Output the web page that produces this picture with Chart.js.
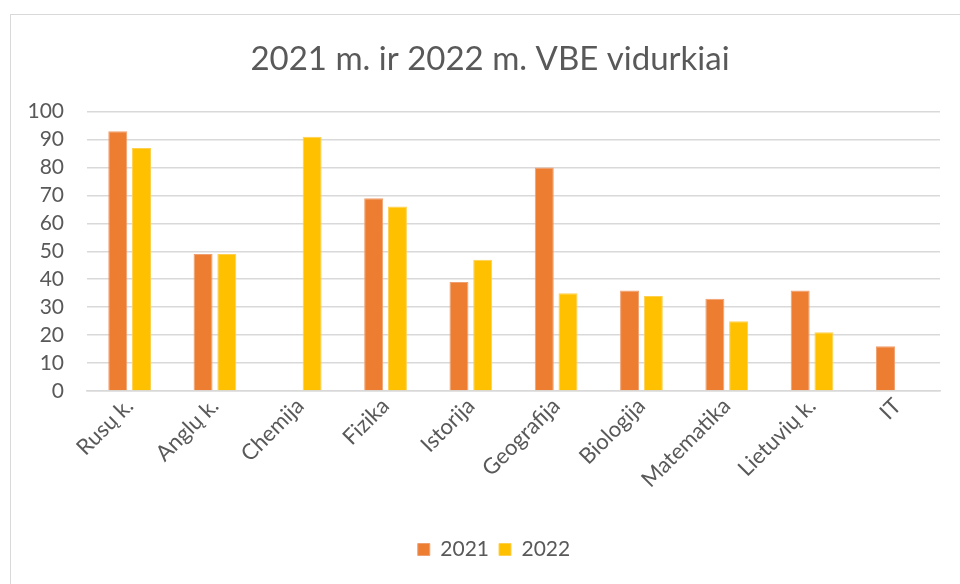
<!DOCTYPE html>
<html>
<head>
<meta charset="utf-8">
<script src="https://cdn.jsdelivr.net/npm/chart.js@4"></script>
<style>
  html, body { margin: 0; padding: 0; background: #fff; }
  #wrap { position: relative; width: 960px; height: 584px; overflow: hidden; }
  #frame { position: absolute; left: 10px; top: 14px; width: 1000px; height: 700px; border: 1px solid #d9d9d9; box-sizing: border-box; }
  canvas { position: absolute; left: 0; top: 0; }
</style>
</head>
<body>
<div id="wrap">
  <div id="frame"></div>
  <canvas id="c" width="960" height="584"></canvas>
</div>
<script>
const categories = ["Rusų k.", "Anglų k.", "Chemija", "Fizika", "Istorija", "Geografija", "Biologija", "Matematika", "Lietuvių k.", "IT"];
const values2021 = [93, 49, null, 69, 39, 80, 36, 33, 36, 16];
const values2022 = [87, 49, 91, 66, 47, 35, 34, 25, 21, null];
const seriesNames = ["2021", "2022"];
const titleText = "2021 m. ir 2022 m. VBE vidurkiai";

const FONT = "Lato, 'Open Sans', sans-serif";
const TXT = "#595959";

const shiftBlocks = {
  id: "shiftBlocks",
  afterLayout(chart) {
    if (chart.titleBlock) { chart.titleBlock.left += 15; chart.titleBlock.right += 15; }
    if (chart.legend) { chart.legend.left += 19; chart.legend.right += 19; }
  }
};

new Chart(document.getElementById("c"), {
  type: "bar",
  data: {
    labels: categories,
    datasets: [
      { label: seriesNames[0], data: values2021, backgroundColor: "#ED7D31", borderColor: "#F0A070", borderWidth: 1, categoryPercentage: 0.557, barPercentage: 0.8 },
      { label: seriesNames[1], data: values2022, backgroundColor: "#FFC000", borderColor: "#FFD050", borderWidth: 1, categoryPercentage: 0.557, barPercentage: 0.8 }
    ]
  },
  plugins: [shiftBlocks],
  options: {
    responsive: false,
    animation: false,
    layout: { padding: { left: 10, right: 20, top: 0, bottom: 14 } },
    plugins: {
      title: {
        display: true, text: titleText, color: TXT,
        font: { family: FONT, size: 33, weight: "normal" },
        padding: { top: 40, bottom: 32 }
      },
      legend: {
        position: "bottom",
        labels: { color: TXT, font: { family: FONT, size: 21 }, boxWidth: 12, boxHeight: 12, padding: 10 }
      },
      tooltip: { enabled: false }
    },
    scales: {
      y: {
        min: 0, max: 100,
        ticks: { stepSize: 10, autoSkip: false, color: TXT, font: { family: FONT, size: 21 }, padding: 23 },
        grid: { color: "#d9d9d9", lineWidth: 1.5, drawTicks: false },
        border: { display: false },
        afterFit(s) { s.width = 77; }
      },
      x: {
        ticks: { color: TXT, font: { family: FONT, size: 22 }, minRotation: 45, maxRotation: 45, padding: -6, autoSkip: false },
        grid: { display: false },
        border: { display: true, color: "#d9d9d9", width: 1.5 },
        afterFit(s) { s.height = 138; }
      }
    }
  }
});
</script>
</body>
</html>
